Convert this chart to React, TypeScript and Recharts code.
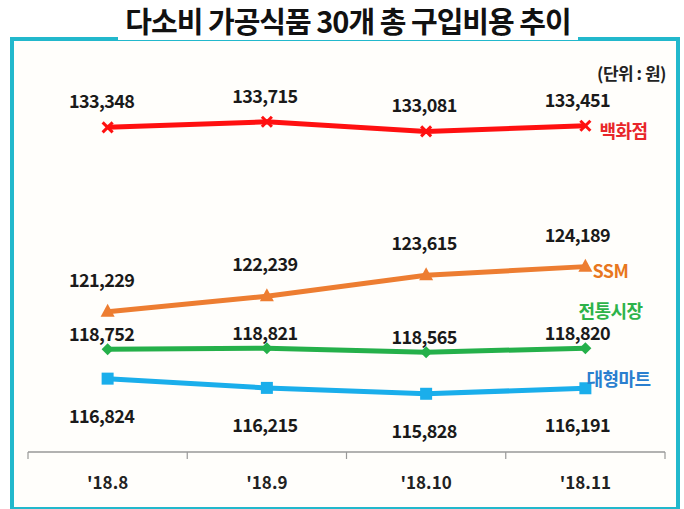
import React from 'react';
import { LineChart, Line, XAxis, YAxis, LabelList } from 'recharts';

const months = ["'18.8", "'18.9", "'18.10", "'18.11"];
const dept = [133348, 133715, 133081, 133451];
const ssm = [121229, 122239, 123615, 124189];
const market = [118752, 118821, 118565, 118820];
const mart = [116824, 116215, 115828, 116191];
const names = ['백화점', 'SSM', '전통시장', '대형마트'];

const data = months.map((m, i) => ({ m, dept: dept[i], ssm: ssm[i], market: market[i], mart: mart[i] }));

const W = 684;
const H = 509;
const M = { top: 87, right: 19, left: 28, bottom: 17 };
const BAND = (W - M.left - M.right) / months.length;
const FONT = '"Noto Sans CJK KR", "Noto Sans", sans-serif';

const fmt = (v: number) => v.toLocaleString('en-US');

const Tick = (p: any) => {
  const { x, y, payload, index } = p;
  const left = x - BAND / 2;
  const ay = y - 8; // axis line position
  return (
    <g>
      <line x1={left} y1={ay} x2={left} y2={ay + 7} stroke="#999" strokeWidth={1.2} />
      {index === months.length - 1 && (
        <line x1={x + BAND / 2} y1={ay} x2={x + BAND / 2} y2={ay + 7} stroke="#999" strokeWidth={1.2} />
      )}
      <text x={x} y={ay + 37} textAnchor="middle" fontFamily={FONT} fontWeight={700} fontSize={17} fill="#222">
        {payload.value}
      </text>
    </g>
  );
};

const cross = (color: string) => (p: any) => {
  const { cx, cy } = p;
  return (
    <g key={`c${p.index}`} stroke={color} strokeWidth={3}>
      <line x1={cx - 5} y1={cy - 5} x2={cx + 5} y2={cy + 5} />
      <line x1={cx - 5} y1={cy + 5} x2={cx + 5} y2={cy - 5} />
    </g>
  );
};
const tri = (color: string) => (p: any) => {
  const { cx, cy } = p;
  return <path key={`t${p.index}`} d={`M${cx},${cy - 8} L${cx + 7},${cy + 5} L${cx - 7},${cy + 5} Z`} fill={color} />;
};
const diamond = (color: string) => (p: any) => {
  const { cx, cy } = p;
  return <path key={`d${p.index}`} d={`M${cx},${cy - 6} L${cx + 6},${cy} L${cx},${cy + 6} L${cx - 6},${cy} Z`} fill={color} />;
};
const square = (color: string) => (p: any) => {
  const { cx, cy } = p;
  return <rect key={`s${p.index}`} x={cx - 6} y={cy - 6} width={12} height={12} fill={color} />;
};

const makeLabel = (dy: number, name: string, nameColor: string, nx: number, ny: number) => (p: any) => {
  const { x, y, value, index } = p;
  const last = index === months.length - 1;
  const dx = index === 0 ? -6 : last ? -8 : -2;
  return (
    <g key={`l${index}`}>
      <text x={x + dx} y={y + dy} textAnchor="middle" dominantBaseline="central"
        fontFamily={FONT} fontWeight={700} fontSize={18} fill="#1a1a1a" letterSpacing={-0.6}>
        {fmt(value)}
      </text>
      {last && (
        <text x={x + nx} y={y + ny} dominantBaseline="central" fontFamily={FONT} fontWeight={700}
          fontSize={18} fill={nameColor} letterSpacing={-0.5}>
          {name}
        </text>
      )}
    </g>
  );
};

export default function App() {
  return (
    <div style={{ position: 'fixed', left: 0, top: 0, width: W, height: H, background: '#fff', overflow: 'hidden' }}>
      <div style={{ position: 'absolute', left: 10, top: 37, width: 662, height: 466, border: '4px solid #22B8CC', background: '#fffefb' }} />
      <div style={{
        position: 'absolute', left: 118, top: 0, width: 460, textAlign: 'center', background: '#fff',
        fontFamily: FONT, fontWeight: 700, fontSize: 29, letterSpacing: -1, color: '#111', lineHeight: '40px'
      }}>
        다소비 가공식품 30개 총 구입비용 추이
      </div>
      <div style={{
        position: 'absolute', right: 18, top: 60, fontFamily: FONT, fontWeight: 700, fontSize: 17,
        color: '#222', letterSpacing: -0.5
      }}>
        (단위 : 원)
      </div>
      <div style={{ position: 'absolute', left: 0, top: 0 }}>
        <LineChart width={W} height={H} data={data} margin={M}>
          <XAxis dataKey="m" height={40} tickLine={false} axisLine={{ stroke: '#999', strokeWidth: 1.5 }}
            padding={{ left: BAND / 2, right: BAND / 2 }} tick={<Tick />} interval={0} />
          <YAxis hide domain={[112000, 136000]} />
          <Line dataKey="dept" stroke="#FF1010" strokeWidth={5} dot={cross('#FF1010')} isAnimationActive={false}>
            <LabelList dataKey="dept" content={makeLabel(-27, names[0], '#E8262A', 14, 4)} />
          </Line>
          <Line dataKey="ssm" stroke="#ED7D31" strokeWidth={5} dot={tri('#ED7D31')} isAnimationActive={false}>
            <LabelList dataKey="ssm" content={makeLabel(-33, names[1], '#E8771E', 7, 3)} />
          </Line>
          <Line dataKey="market" stroke="#25B04A" strokeWidth={5} dot={diamond('#25B04A')} isAnimationActive={false}>
            <LabelList dataKey="market" content={makeLabel(-16, names[2], '#2DB34A', -7, -38)} />
          </Line>
          <Line dataKey="mart" stroke="#1AAEEB" strokeWidth={5} dot={square('#1AAEEB')} isAnimationActive={false}>
            <LabelList dataKey="mart" content={makeLabel(36, names[3], '#2A7FCF', 1, -10)} />
          </Line>
        </LineChart>
      </div>
    </div>
  );
}
